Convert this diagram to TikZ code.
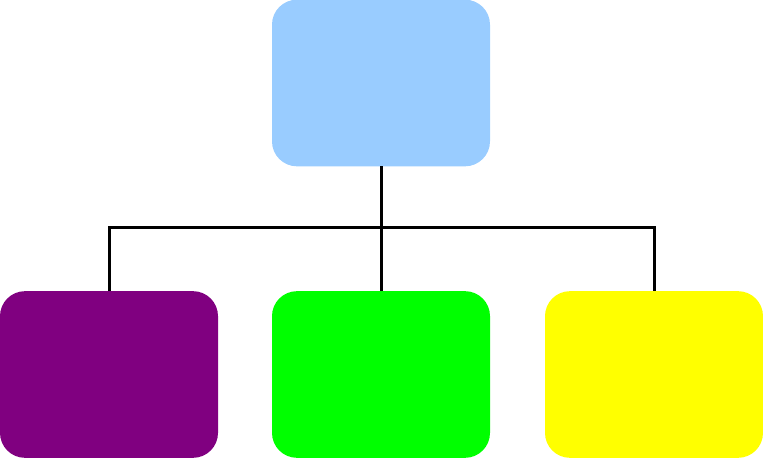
\documentclass[tikz,border=0pt]{standalone}
\usepackage{tikz}
\usetikzlibrary{positioning}
\definecolor{skyBlue}{RGB}{153,204,255}
\definecolor{deepPurple}{RGB}{128,0,128}
\definecolor{brightGreen}{RGB}{0,255,0}
\definecolor{brightYellow}{RGB}{255,255,0}
\tikzset{
  card/.style={rectangle, rounded corners=0.75cm, draw=none, inner sep=0pt, outer sep=0pt,
    minimum width=6.54cm, minimum height=5cm},
  link/.style={line width=0.09cm, black}
}
\begin{document}
\begin{tikzpicture}[x=0.03cm, y=-0.03cm]
    \useasboundingbox (0,0) rectangle (763,458);
    \node[card, fill=skyBlue] (ROOT) at (381,83) {};

    \node[card, fill=deepPurple] (LEFT) at (109,374.5) {};
    \node[card, fill=brightGreen] (MID) at (381,374.5) {};
    \node[card, fill=brightYellow] (RIGHT) at (654,374.5) {};

    \coordinate (BUS) at (381,228);

    \draw[link] (ROOT.south) -- (MID.north);
    \draw[link] (LEFT.north) |- (BUS) -| (RIGHT.north);
  \end{tikzpicture}
\end{document}
